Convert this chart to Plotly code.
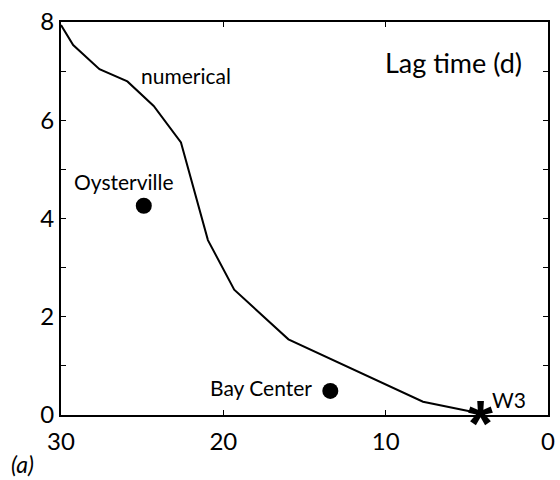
import plotly.graph_objects as go

# numerical lag-time curve
num_x = [30.0, 29.25, 27.63, 25.91, 24.29, 22.61, 20.95, 19.33, 15.99, 7.70, 4.15]
num_y = [7.94, 7.53, 7.04, 6.79, 6.29, 5.55, 3.56, 2.55, 1.54, 0.27, 0.03]

# observed stations
station_names = ["Oysterville", "Bay Center"]
station_x = [24.9, 13.41]
station_y = [4.26, 0.49]

ref_name = "W3"
ref_x = [4.15]
ref_y = [0.0]

x_ticks = [30, 20, 10, 0]
y_ticks = [0, 2, 4, 6, 8]

FONT = "Lato"

fig = go.Figure()
fig.add_trace(go.Scatter(x=num_x, y=num_y, mode="lines",
                         line=dict(color="black", width=2), showlegend=False))
fig.add_trace(go.Scatter(x=station_x, y=station_y, mode="markers",
                         marker=dict(color="black", size=16), showlegend=False))
# W3 station drawn as a text asterisk at its data position
fig.add_annotation(x=ref_x[0], y=ref_y[0], text="*", showarrow=False, yshift=-9,
                   font=dict(family="Liberation Sans", size=64, color="black",
                             weight="bold"))

txt = dict(family=FONT, size=21, color="black")
fig.add_annotation(x=22.29, y=6.92, text="numerical", showarrow=False, font=txt)
fig.add_annotation(x=26.14, y=4.75, text=station_names[0], showarrow=False, font=txt)
fig.add_annotation(x=17.70, y=0.57, text=station_names[1], showarrow=False, font=txt)
fig.add_annotation(x=2.43, y=0.31, text=ref_name, showarrow=False, font=txt)
fig.add_annotation(x=5.83, y=7.17, text="Lag time (d)", showarrow=False,
                   font=dict(family=FONT, size=27, color="black"))
fig.add_annotation(xref="paper", yref="paper", x=-0.107, y=-0.085, xanchor="left",
                   yanchor="top", text="<i>(a)</i>", showarrow=False,
                   font=dict(family=FONT, size=23, color="black"))

axis_common = dict(showline=True, linecolor="black", linewidth=2, mirror="ticks",
                   ticks="inside", ticklen=5, tickwidth=1, tickcolor="black",
                   showgrid=False, zeroline=False, ticklabeloverflow="allow",
                   tickfont=dict(family=FONT, size=24, color="black"))

fig.update_xaxes(range=[30, 0], tickvals=x_ticks, ticktext=[str(v) for v in x_ticks],
                 ticklabelstandoff=4, **axis_common)
fig.update_yaxes(range=[0, 8], tickvals=y_ticks, ticktext=[str(v) for v in y_ticks],
                 minor=dict(tickvals=list(range(0, 9)), ticks="inside", ticklen=5,
                            tickcolor="black"),
                 **axis_common)

fig.update_layout(width=560, height=480, margin=dict(l=61, r=5, t=22, b=65),
                  plot_bgcolor="white", paper_bgcolor="white")
fig.write_html("out.html")
